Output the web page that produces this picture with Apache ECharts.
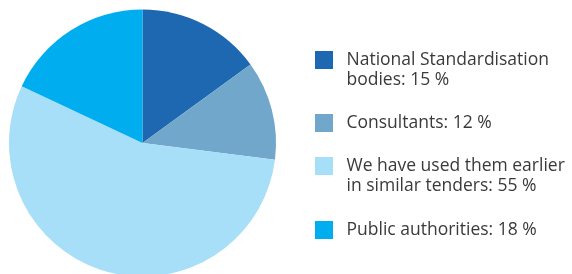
<!DOCTYPE html>
<html>
<head>
<meta charset="utf-8">
<script src="https://cdn.jsdelivr.net/npm/echarts@6/dist/echarts.min.js"></script>
<style>
  html, body { margin: 0; padding: 0; background: #fff; }
  #chart { width: 572px; height: 274px; }
</style>
</head>
<body>
<div id="chart"></div>
<script>
// data
const categories = [
    'National Standardisation\nbodies',
    'Consultants',
    'We have used them earlier\nin similar tenders',
    'Public authorities'
];
const shares = [15, 12, 55, 18];
const colors = ['#1e67b1', '#71a7cb', '#a7dff8', '#00adee'];

const chart = echarts.init(document.getElementById('chart'));

// one legend per entry; two-line texts get an empty first line so the
// square sits beside the first line instead of the middle of the block
const legendTops = [30, 113, 136, 220];
const legends = categories.map((name, i) => {
    const twoLines = name.indexOf('\n') >= 0;
    return {
        orient: 'vertical',
        left: 315,
        top: legendTops[i],
        padding: 0,
        itemWidth: 18,
        itemHeight: 18,
        icon: 'rect',
        selectedMode: false,
        data: [name],
        formatter: n => (twoLines ? '\n' : '') + n + ': ' + shares[i] + ' %',
        textStyle: {
            fontFamily: 'Open Sans',
            fontSize: 17.5,
            lineHeight: 20,
            color: '#3a3a3a',
            padding: [0, 0, 0, 8.5]
        }
    };
});

const option = {
    animation: false,
    color: colors,
    legend: legends,
    series: [
        {
            type: 'pie',
            center: [142.5, 143],
            radius: [0, 133.5],
            startAngle: 90,
            clockwise: true,
            label: { show: false },
            labelLine: { show: false },
            emphasis: { disabled: true },
            data: categories.map((name, i) => ({ name: name, value: shares[i] }))
        }
    ]
};
chart.setOption(option);
</script>
</body>
</html>
